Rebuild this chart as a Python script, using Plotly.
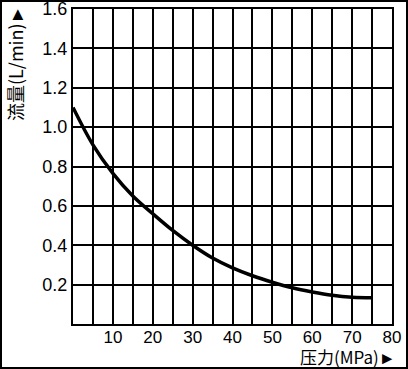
import plotly.graph_objects as go

pressure = [0, 5, 10, 15, 20, 25, 30, 35, 40, 45, 50, 55, 60, 65, 70, 75]
flow = [1.10, 0.91, 0.765, 0.65, 0.56, 0.475, 0.40, 0.335, 0.285, 0.245, 0.212, 0.184, 0.163, 0.146, 0.136, 0.133]

x_grid = [0, 5, 10, 15, 20, 25, 30, 35, 40, 45, 50, 55, 60, 65, 70, 75, 80]
x_text = ["", "", "10", "", "20", "", "30", "", "40", "", "50", "", "60", "", "70", "", "80"]
y_grid = [0.2, 0.4, 0.6, 0.8, 1.0, 1.2, 1.4, 1.6]
y_text = ["0.2", "0.4", "0.6", "0.8", "1.0", "1.2", "1.4", "1.6"]

fig = go.Figure()
fig.add_trace(go.Scatter(x=pressure, y=flow, mode="lines",
                         line=dict(color="black", width=3.5, shape="spline"),
                         showlegend=False, hoverinfo="skip"))

W, H = 408, 369
L, R, T, B = 73, 16, 9, 45
pw, ph = W - L - R, H - T - B

def px(x):
    return (x - L) / pw

def py(y):
    return (H - B - y) / ph

fig.update_layout(
    width=W, height=H,
    margin=dict(l=L, r=R, t=T, b=B),
    paper_bgcolor="white", plot_bgcolor="white",
    font=dict(family="Liberation Sans, Arial, sans-serif", color="black", size=17),
    xaxis=dict(range=[0, 80], tickvals=x_grid, ticktext=x_text, showgrid=True,
               gridcolor="black", gridwidth=2, showline=True, linecolor="black",
               linewidth=2, mirror=True, zeroline=False, ticks="", ticklen=0,
               tickfont=dict(size=17), automargin=False, ticklabeloverflow="allow",
               ticklabelstandoff=-3),
    yaxis=dict(range=[0, 1.6], tickvals=y_grid, ticktext=y_text, showgrid=True,
               gridcolor="black", gridwidth=2, showline=True, linecolor="black",
               linewidth=2, mirror=True, zeroline=False, ticks="", ticklen=0,
               tickfont=dict(size=18), automargin=False, ticklabeloverflow="allow"),
    shapes=[dict(type="rect", xref="paper", yref="paper",
                 x0=px(1), x1=px(407), y0=py(368), y1=py(1),
                 line=dict(color="black", width=2), layer="above")],
    annotations=[
        dict(text="流量(L/min)►", textangle=-90, xref="paper", yref="paper",
             x=px(15), y=py(64), xanchor="center", yanchor="middle", showarrow=False,
             font=dict(family="Noto Sans CJK SC", size=18, color="black")),
        dict(text="压力(MPa)►", xref="paper", yref="paper",
             x=px(348), y=py(356), xanchor="center", yanchor="middle", showarrow=False,
             font=dict(family="Noto Sans CJK SC", size=17, color="black")),
    ],
)

fig.write_html("out.html", config={"displayModeBar": False},
               post_script="document.body.style.margin='0px';")
